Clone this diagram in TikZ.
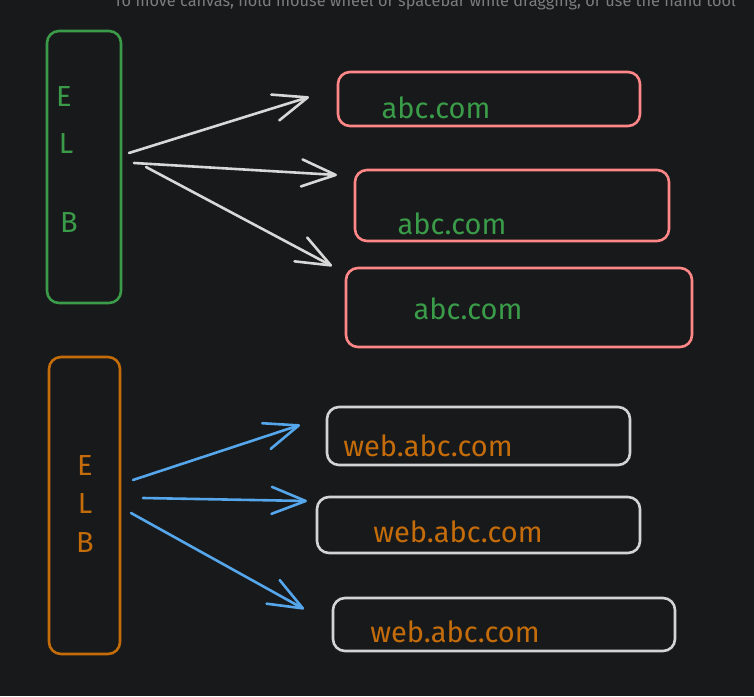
\documentclass[tikz,border=0pt]{standalone}
\usepackage{fontspec}
\setmainfont{Fira Sans}
\usetikzlibrary{arrows.meta}
\definecolor{bg}{HTML}{18191B}
\definecolor{elbgreen}{HTML}{3A9B48}
\definecolor{elborange}{HTML}{C46C0A}
\definecolor{pinkline}{HTML}{FF8787}
\definecolor{greyline}{HTML}{D4D4D4}
\definecolor{arrowwhite}{HTML}{D8D8D8}
\definecolor{arrowblue}{HTML}{56A6EC}
\definecolor{hint}{HTML}{7C7C7C}
\tikzset{
  box/.style={draw, line width=2.6pt, rounded corners=12pt, inner sep=0pt},
  hand/.style={font=\fontsize{29}{32}\selectfont, anchor=base, inner sep=0pt},
  link/.style={line width=2.6pt, line cap=round, line join=round,
    -{Straight Barb[length=34pt, width=27pt, line width=2.6pt, round]}}
}
\begin{document}
\begin{tikzpicture}[x=1pt, y=-1pt]
  \fill[bg] (0,0) rectangle (754,696);
  \useasboundingbox (0,0) rectangle (754,696);
  \node[hint, anchor=base, font=\fontsize{16.3}{19}\selectfont] (hint) at (425,6)
    {To move canvas, hold mouse wheel or spacebar while dragging, or use the hand tool};
  % first balancer
  \node[box, elbgreen, minimum width=74pt, minimum height=272pt] (elb1) at (84,167) {};
  \node[hand, elbgreen] (e1) at (64,106) {E};
  \node[hand, elbgreen] (l1) at (66,153) {L};
  \node[hand, elbgreen] (b1) at (69,232) {B};
  \node[box, pinkline, minimum width=302pt, minimum height=54pt] (s1) at (489,99) {};
  \node[box, pinkline, minimum width=314pt, minimum height=71pt] (s2) at (512,205.5) {};
  \node[box, pinkline, minimum width=346pt, minimum height=79pt] (s3) at (519,307.5) {};
  \node[hand, elbgreen] (t1) at (436,118) {abc.com};
  \node[hand, elbgreen] (t2) at (452,234) {abc.com};
  \node[hand, elbgreen] (t3) at (468,319) {abc.com};
  \coordinate (p1) at (129,153);
  \coordinate (p2) at (134,163);
  \coordinate (p3) at (146,167);
  \coordinate (q1) at (309,97);
  \coordinate (q2) at (337,175);
  \coordinate (q3) at (332,266);
  \draw[link, arrowwhite] (p1)--(q1);
  \draw[link, arrowwhite] (p2)--(q2);
  \draw[link, arrowwhite] (p3)--(q3);
  % second balancer
  \node[box, elborange, minimum width=71pt, minimum height=297pt] (elb2) at (84.5,505.5) {};
  \node[hand, elborange] (e2) at (85,475) {E};
  \node[hand, elborange] (l2) at (85,513) {L};
  \node[hand, elborange] (b2) at (85,552) {B};
  \node[box, greyline, minimum width=303pt, minimum height=58pt] (w1) at (478.5,436) {};
  \node[box, greyline, minimum width=323pt, minimum height=56pt] (w2) at (478.5,525) {};
  \node[box, greyline, minimum width=342pt, minimum height=53pt] (w3) at (504,624.5) {};
  \node[hand, elborange] (u1) at (428,456) {web.abc.com};
  \node[hand, elborange] (u2) at (458,542) {web.abc.com};
  \node[hand, elborange] (u3) at (455,642) {web.abc.com};
  \coordinate (p4) at (133,480);
  \coordinate (p5) at (143,498);
  \coordinate (p6) at (131,513);
  \coordinate (q4) at (300,425);
  \coordinate (q5) at (307,501);
  \coordinate (q6) at (304,609);
  \draw[link, arrowblue] (p4)--(q4);
  \draw[link, arrowblue] (p5)--(q5);
  \draw[link, arrowblue] (p6)--(q6);
\end{tikzpicture}
\end{document}
